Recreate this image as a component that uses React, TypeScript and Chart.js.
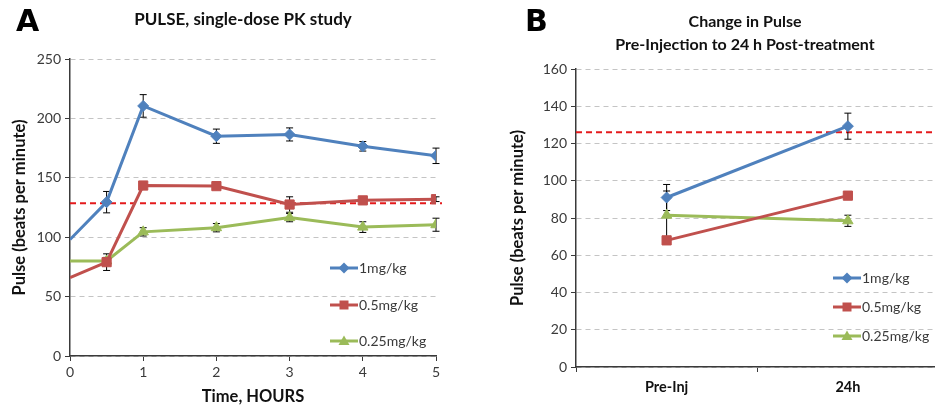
import React, { useEffect, useRef } from "react";
import { Chart, registerables } from "chart.js";

Chart.register(...registerables);

// ---------- Data ----------
const TITLE_A = ["PULSE, single-dose PK study"];
const TITLE_B = ["Change in Pulse", "Pre-Injection to 24 h Post-treatment"];
const SERIES_LABELS = ["1mg/kg", "0.5mg/kg", "0.25mg/kg"];

const TIME_HOURS = [0, 0.5, 1, 2, 3, 4, 5];
const A_1MG = [98, 129.5, 210.5, 185, 186.5, 176.5, 168.5];
const A_1MG_ERR = [0, 9, 9.5, 6, 5.5, 4, 6.5];
const A_05MG = [66, 79, 143.5, 143, 127.5, 131, 132];
const A_05MG_ERR = [0, 7, 2, 2, 6.5, 2, 2];
const A_025MG = [80, 80, 104.5, 108, 116.5, 108.5, 110.5];
const A_025MG_ERR = [0, 3, 3.5, 3.5, 3.5, 4.5, 5.5];
const A_REF = 128.5;

const B_CATEGORIES = ["Pre-Inj", "24h"];
const B_1MG = [91, 129.3];
const B_1MG_ERR = [7, 7];
const B_05MG = [68, 92];
const B_05MG_ERR = [0, 0];
const B_025MG = [81.5, 78.5];
const B_025MG_ERR = [13, 3];
const B_REF = 126;

// ---------- Styles ----------
const BLUE = "#4F81BD";
const RED = "#C0504D";
const GREEN = "#9BBB59";
const FONT = "Lato, 'Noto Sans', sans-serif";
const TICK_COLOR = "#3a3a3a";
const TEXT_DARK = "#111";
const GRID_COLOR = "#c4c4c4";

const errorBarPlugin = {
  id: "errorBars",
  beforeDatasetsDraw(chart: any) {
    const ctx = chart.ctx;
    const y = chart.scales.y;
    chart.data.datasets.forEach((ds: any, di: number) => {
      const errs = ds.errors;
      if (!errs) return;
      const meta = chart.getDatasetMeta(di);
      meta.data.forEach((el: any, i: number) => {
        const e = errs[i];
        if (!e) return;
        const raw = ds.data[i];
        const v = typeof raw === "number" ? raw : raw.y;
        const top = y.getPixelForValue(v + e);
        const bot = y.getPixelForValue(v - e);
        ctx.save();
        ctx.strokeStyle = "#000";
        ctx.lineWidth = 1;
        ctx.beginPath();
        ctx.moveTo(el.x, top);
        ctx.lineTo(el.x, bot);
        ctx.moveTo(el.x - 3.5, top);
        ctx.lineTo(el.x + 3.5, top);
        ctx.moveTo(el.x - 3.5, bot);
        ctx.lineTo(el.x + 3.5, bot);
        ctx.stroke();
        ctx.restore();
      });
    });
  },
};

const refLinePlugin = {
  id: "refLine",
  beforeDatasetsDraw(chart: any, _args: any, opts: any) {
    if (opts == null || opts.value == null) return;
    const ctx = chart.ctx;
    const y = chart.scales.y.getPixelForValue(opts.value);
    const area = chart.chartArea;
    ctx.save();
    ctx.strokeStyle = "#E41A1C";
    ctx.lineWidth = 2;
    ctx.setLineDash([6, 4]);
    ctx.beginPath();
    ctx.moveTo(area.left, y);
    ctx.lineTo(area.right + (opts.extend || 0), y);
    ctx.stroke();
    ctx.restore();
  },
};

function drawMarker(ctx: any, style: string, x: number, y: number, color: string) {
  ctx.fillStyle = color;
  ctx.beginPath();
  if (style === "rectRot") {
    ctx.moveTo(x, y - 5.5);
    ctx.lineTo(x + 5.5, y);
    ctx.lineTo(x, y + 5.5);
    ctx.lineTo(x - 5.5, y);
  } else if (style === "rect") {
    ctx.rect(x - 4.5, y - 4.5, 9, 9);
  } else {
    ctx.moveTo(x, y - 5.5);
    ctx.lineTo(x + 5.5, y + 4);
    ctx.lineTo(x - 5.5, y + 4);
  }
  ctx.closePath();
  ctx.fill();
}

const customLegendPlugin = {
  id: "customLegend",
  afterDraw(chart: any, _args: any, opts: any) {
    if (!opts || !opts.ys) return;
    const ctx = chart.ctx;
    chart.data.datasets.forEach((ds: any, i: number) => {
      const y = opts.ys[i];
      if (y == null) return;
      ctx.save();
      ctx.strokeStyle = ds.borderColor;
      ctx.lineWidth = 3;
      ctx.beginPath();
      ctx.moveTo(opts.x, y);
      ctx.lineTo(opts.x + 28, y);
      ctx.stroke();
      drawMarker(ctx, ds.pointStyle, opts.x + 14, y, ds.borderColor);
      ctx.fillStyle = TICK_COLOR;
      ctx.font = `14px ${FONT}`;
      ctx.textBaseline = "middle";
      ctx.textAlign = "left";
      ctx.fillText(ds.label, opts.x + 29, y);
      ctx.restore();
    });
  },
};

const panelTitlePlugin = {
  id: "panelTitle",
  afterDraw(chart: any, _args: any, opts: any) {
    if (!opts || !opts.lines) return;
    const ctx = chart.ctx;
    ctx.save();
    ctx.fillStyle = TEXT_DARK;
    ctx.font = `bold ${opts.size}px ${FONT}`;
    ctx.textAlign = "center";
    ctx.textBaseline = "middle";
    opts.lines.forEach((line: string, i: number) => {
      ctx.fillText(line, opts.x, opts.y + i * opts.lineHeight);
    });
    ctx.restore();
  },
};

function seriesStyle(color: string, pointStyle: string, radius: number) {
  return {
    borderColor: color,
    backgroundColor: color,
    pointBackgroundColor: color,
    pointBorderColor: color,
    borderWidth: 3,
    pointStyle,
    pointRadius: radius,
    pointBorderWidth: 1,
    tension: 0,
  };
}

export default function App() {
  const refA = useRef<HTMLCanvasElement>(null);
  const refB = useRef<HTMLCanvasElement>(null);

  useEffect(() => {
    const xy = (vals: number[]) => TIME_HOURS.map((t, i) => ({ x: t, y: vals[i] }));
    const hideFirst = (r: number) => (c: any) => (c.dataIndex === 0 ? 0 : r);
    const axisTitleFont = { family: FONT, size: 16.5, weight: "bold" };
    const tickFont = { family: FONT, size: 14 };

    const chartA = new Chart(refA.current!, {
      type: "line",
      data: {
        datasets: [
          { label: SERIES_LABELS[0], data: xy(A_1MG), errors: A_1MG_ERR, ...seriesStyle(BLUE, "rectRot", 5.5), pointRadius: hideFirst(5.5) } as any,
          { label: SERIES_LABELS[1], data: xy(A_05MG), errors: A_05MG_ERR, ...seriesStyle(RED, "rect", 6.5), pointRadius: hideFirst(6.5) } as any,
          { label: SERIES_LABELS[2], data: xy(A_025MG), errors: A_025MG_ERR, ...seriesStyle(GREEN, "triangle", 6), pointRadius: hideFirst(6) } as any,
        ],
      },
      options: {
        animation: false,
        responsive: false,
        devicePixelRatio: 1,
        layout: { padding: { left: 4, right: 29, top: 59, bottom: 0 } },
        plugins: {
          legend: { display: false },
          tooltip: { enabled: false },
          refLine: { value: A_REF, extend: 6 },
          customLegend: { x: 330, ys: [268, 305, 341] },
          panelTitle: { lines: TITLE_A, x: 243, y: 20, lineHeight: 23, size: 17 },
        } as any,
        scales: {
          x: {
            type: "linear",
            min: 0,
            max: 5,
            ticks: { stepSize: 1, color: TICK_COLOR, font: tickFont, padding: 3 },
            grid: { drawOnChartArea: false, drawTicks: true, tickLength: 5, tickColor: TICK_COLOR },
            border: { color: TICK_COLOR, width: 1.5 },
            title: { display: true, text: "Time, HOURS", color: TEXT_DARK, font: axisTitleFont, padding: 5 },
            afterFit: (s: any) => { s.height = 56; },
          },
          y: {
            min: 0,
            max: 250,
            ticks: { stepSize: 50, color: TICK_COLOR, font: tickFont, padding: 4 },
            grid: { color: GRID_COLOR, tickColor: TICK_COLOR, tickLength: 5 },
            border: { color: TICK_COLOR, width: 1.5, dash: [5, 4] },
            title: { display: true, text: "Pulse (beats per minute)", color: TEXT_DARK, font: axisTitleFont, padding: 6 },
            afterFit: (s: any) => { s.width = 66; },
          },
        },
      },
      plugins: [refLinePlugin, errorBarPlugin, customLegendPlugin, panelTitlePlugin],
    } as any);

    const chartB = new Chart(refB.current!, {
      type: "line",
      data: {
        labels: B_CATEGORIES,
        datasets: [
          { label: SERIES_LABELS[0], data: B_1MG, errors: B_1MG_ERR, ...seriesStyle(BLUE, "rectRot", 5.5) } as any,
          { label: SERIES_LABELS[1], data: B_05MG, errors: B_05MG_ERR, ...seriesStyle(RED, "rect", 6.5) } as any,
          { label: SERIES_LABELS[2], data: B_025MG, errors: B_025MG_ERR, ...seriesStyle(GREEN, "triangle", 6) } as any,
        ],
      },
      options: {
        animation: false,
        responsive: false,
        devicePixelRatio: 1,
        layout: { padding: { left: 32, right: 5, top: 69, bottom: 0 } },
        plugins: {
          legend: { display: false },
          tooltip: { enabled: false },
          refLine: { value: B_REF, extend: 0 },
          customLegend: { x: 363, ys: [278, 307, 336] },
          panelTitle: { lines: TITLE_B, x: 275, y: 22, lineHeight: 23, size: 16 },
        } as any,
        scales: {
          x: {
            type: "category",
            offset: true,
            ticks: { color: TEXT_DARK, font: { family: FONT, size: 14.5, weight: "bold" }, padding: 7 },
            grid: { offset: true, drawOnChartArea: false, drawTicks: true, tickLength: 5, tickColor: TICK_COLOR },
            border: { color: TICK_COLOR, width: 1.5 },
            afterFit: (s: any) => { s.height = 45; },
          },
          y: {
            min: 0,
            max: 160,
            ticks: { stepSize: 20, color: TICK_COLOR, font: tickFont, padding: 4 },
            grid: { color: GRID_COLOR, tickColor: TICK_COLOR, tickLength: 5 },
            border: { color: TICK_COLOR, width: 1.5, dash: [5, 4] },
            title: { display: true, text: "Pulse (beats per minute)", color: TEXT_DARK, font: axisTitleFont, padding: 6 },
            afterFit: (s: any) => { s.width = 74; },
          },
        },
      },
      plugins: [refLinePlugin, errorBarPlugin, customLegendPlugin, panelTitlePlugin],
    } as any);

    return () => {
      chartA.destroy();
      chartB.destroy();
    };
  }, []);

  const letterStyle: React.CSSProperties = {
    position: "absolute",
    fontFamily: "'DejaVu Sans', sans-serif",
    fontWeight: 900,
    fontSize: 30,
    lineHeight: "30px",
    color: "#000",
  };

  return (
    <div style={{ position: "absolute", left: 0, top: 0, width: 935, height: 412, overflow: "hidden", background: "#fff" }}>
      <canvas ref={refA} width={465} height={412} style={{ position: "absolute", left: 0, top: 0, display: "block" }} />
      <div style={{ position: "absolute", left: 470, top: 0, width: 465, height: 412, overflow: "hidden" }}>
        <canvas ref={refB} width={476} height={412} style={{ position: "absolute", left: 0, top: 0, display: "block" }} />
      </div>
      <div style={{ ...letterStyle, left: 16, top: 6 }}>A</div>
      <div style={{ ...letterStyle, left: 525, top: 6 }}>B</div>
    </div>
  );
}
